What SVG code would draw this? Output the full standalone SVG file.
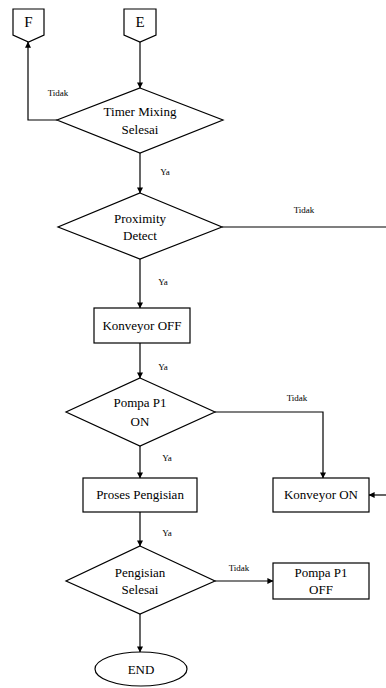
<svg xmlns="http://www.w3.org/2000/svg" width="386" height="688" viewBox="0 0 386 688">
<style>
.s{fill:#fff;stroke:#000;stroke-width:1.2}
.c{fill:none;stroke:#000;stroke-width:1.2}
.t{font-family:"Liberation Serif","Times New Roman",serif;font-size:13px;fill:#000;text-anchor:middle}
.l{font-family:"Liberation Serif","Times New Roman",serif;font-size:9px;fill:#000;text-anchor:middle}
</style>
<defs>
<marker id="a" viewBox="0 0 8 8" refX="7.5" refY="4" markerWidth="6" markerHeight="6" orient="auto" markerUnits="userSpaceOnUse">
<path d="M0,0 L8,4 L0,8 z" fill="#000"/>
</marker>
</defs>
<rect width="386" height="688" fill="#fff"/>
<g id="connectors">
<path class="c" d="M140,42 V88" marker-end="url(#a)"/>
<path class="c" d="M57,120 H28 V42" marker-end="url(#a)"/>
<path class="c" d="M140,153 V193" marker-end="url(#a)"/>
<path class="c" d="M222,227 H386"/>
<path class="c" d="M140,259 V308" marker-end="url(#a)"/>
<path class="c" d="M140,343 V378" marker-end="url(#a)"/>
<path class="c" d="M215,412 H323 V478" marker-end="url(#a)"/>
<path class="c" d="M386,495 H369" marker-end="url(#a)"/>
<path class="c" d="M140,446 V478" marker-end="url(#a)"/>
<path class="c" d="M140,512 V546" marker-end="url(#a)"/>
<path class="c" d="M215,581 H273" marker-end="url(#a)"/>
<path class="c" d="M140,614 V652" marker-end="url(#a)"/>
<text class="l" x="58" y="96">Tidak</text>
<text class="l" x="165" y="175">Ya</text>
<text class="l" x="304" y="213">Tidak</text>
<text class="l" x="163" y="285">Ya</text>
<text class="l" x="163" y="370">Ya</text>
<text class="l" x="297" y="401">Tidak</text>
<text class="l" x="167" y="461">Ya</text>
<text class="l" x="167" y="536">Ya</text>
<text class="l" x="239" y="571">Tidak</text>
</g>
<g id="F">
<polygon class="s" points="13,9 44,9 44,35 28.5,42 13,35"/>
<text class="t" x="28.5" y="27" style="font-size:15px">F</text>
</g>
<g id="E">
<polygon class="s" points="124,9 156,9 156,35 140,42 124,35"/>
<text class="t" x="140" y="27" style="font-size:15px">E</text>
</g>
<g id="timer">
<polygon class="s" points="140,88 223,120 140,153 57,120"/>
<text class="t" x="140" y="116">Timer Mixing</text>
<text class="t" x="140" y="134">Selesai</text>
</g>
<g id="proximity">
<polygon class="s" points="140,193 222,227 140,259 58,227"/>
<text class="t" x="140" y="223">Proximity</text>
<text class="t" x="140" y="240">Detect</text>
</g>
<g id="konveyor-off">
<rect class="s" x="94" y="308" width="96" height="35"/>
<text class="t" x="142" y="330">Konveyor OFF</text>
</g>
<g id="pompa-on">
<polygon class="s" points="140,378 215,412 140,446 66,412"/>
<text class="t" x="140" y="407">Pompa P1</text>
<text class="t" x="140" y="426">ON</text>
</g>
<g id="proses">
<rect class="s" x="83" y="478" width="114" height="34"/>
<text class="t" x="140" y="499">Proses Pengisian</text>
</g>
<g id="konveyor-on">
<rect class="s" x="273" y="478" width="96" height="34"/>
<text class="t" x="321" y="499">Konveyor ON</text>
</g>
<g id="pengisian">
<polygon class="s" points="140,546 215,581 140,614 66,581"/>
<text class="t" x="140" y="577">Pengisian</text>
<text class="t" x="140" y="594">Selesai</text>
</g>
<g id="pompa-off">
<rect class="s" x="273" y="563" width="96" height="36"/>
<text class="t" x="321" y="577">Pompa P1</text>
<text class="t" x="321" y="594">OFF</text>
</g>
<g id="end">
<ellipse class="s" cx="141" cy="669" rx="46" ry="17"/>
<text class="t" x="141" y="674">END</text>
</g>
</svg>
